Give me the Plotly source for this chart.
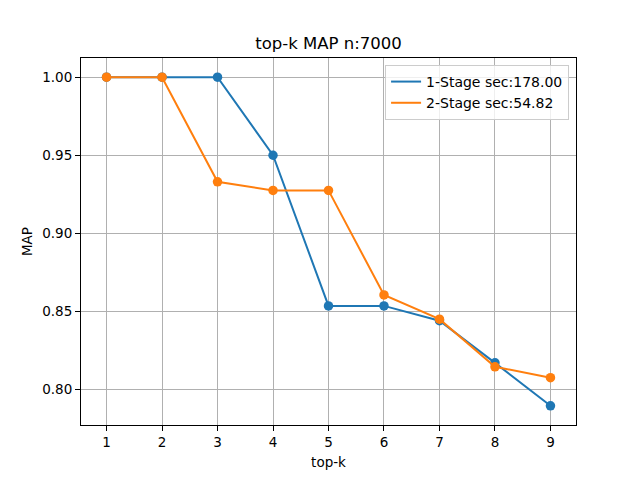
import plotly.graph_objects as go

topk = [1, 2, 3, 4, 5, 6, 7, 8, 9]
stage1 = [1.0, 1.0, 1.0, 0.95, 0.8535, 0.8535, 0.844, 0.817, 0.7895]
stage2 = [1.0, 1.0, 0.933, 0.9275, 0.9275, 0.8605, 0.845, 0.8145, 0.8075]
name1 = "1-Stage sec:178.00"
name2 = "2-Stage sec:54.82"
xticks = [1, 2, 3, 4, 5, 6, 7, 8, 9]
yticks = [0.80, 0.85, 0.90, 0.95, 1.00]

blue = "#1f77b4"
orange = "#ff7f0e"
font = "DejaVu Sans"

fig = go.Figure()
for ys, nm, c in [(stage1, name1, blue), (stage2, name2, orange)]:
    fig.add_trace(go.Scatter(x=topk, y=ys, mode="lines", name=nm,
                             line=dict(color=c, width=2)))
    fig.add_trace(go.Scatter(x=topk, y=ys, mode="markers", showlegend=False,
                             marker=dict(color=c, size=9.5, line=dict(width=0))))

axis_common = dict(showline=True, linecolor="black", linewidth=1.1, mirror=True,
                   ticks="outside", ticklen=5, tickwidth=1.1, tickcolor="black",
                   showgrid=True, gridcolor="#b0b0b0", gridwidth=1.1,
                   zeroline=False, tickfont=dict(family=font, size=13.5, color="black"))

fig.update_layout(
    width=640, height=480,
    margin=dict(l=81, r=64, t=58, b=53),
    paper_bgcolor="white", plot_bgcolor="white",
    font=dict(family=font, size=13.5, color="black"),
    title=dict(text="top-k MAP n:7000", x=0.5, xanchor="center", xref="paper",
               y=1 - 43 / 480, yref="container", yanchor="middle",
               font=dict(family=font, size=16.5, color="black")),
    xaxis=dict(range=[0.54, 9.46], tickvals=xticks, ticktext=[str(v) for v in xticks],
               title=dict(text="top-k", standoff=8, font=dict(family=font, size=13.5)),
               **axis_common),
    yaxis=dict(range=[0.7772, 1.0123], tickvals=yticks,
               ticktext=["%.2f" % v for v in yticks],
               title=dict(text="MAP", standoff=6, font=dict(family=font, size=13.5)),
               **axis_common),
    legend=dict(x=0.986, y=0.981, xanchor="right", yanchor="top",
                bgcolor="rgba(255,255,255,0.8)", bordercolor="#cccccc", borderwidth=1,
                font=dict(family=font, size=14, color="black")),
    showlegend=True,
)

fig.write_html("out.html")
